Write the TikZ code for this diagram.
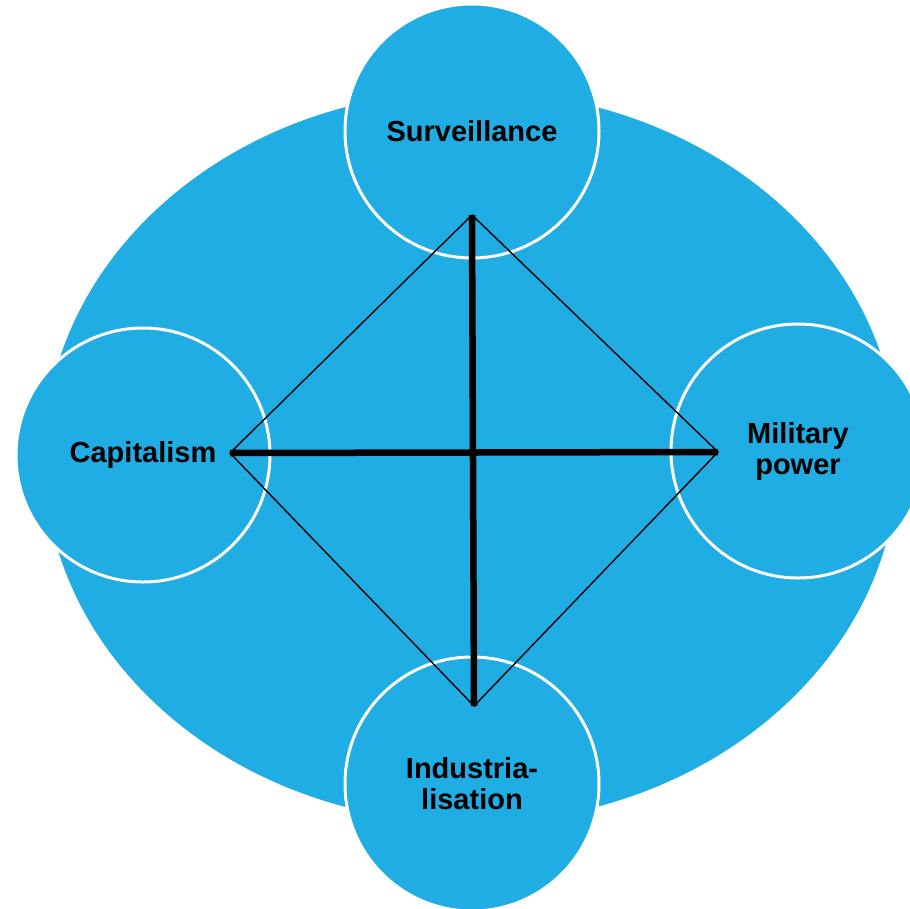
\documentclass[tikz,border=0pt]{standalone}
\usepackage{fontspec}
\setmainfont{Liberation Sans}
\definecolor{skyblue}{RGB}{31,173,227}
\begin{document}
\begin{tikzpicture}[x=1pt,y=-1pt,
  bigoval/.style={fill=skyblue,draw=none},
  powercircle/.style={circle,fill=skyblue,draw=white,line width=3pt,minimum size=254pt,inner sep=0pt,align=center,font=\fontsize{29}{31}\selectfont\bfseries},
  thinlink/.style={draw=black,line width=1.4pt},
  thicklink/.style={draw=black,line width=6.5pt}]
\useasboundingbox (0,0) rectangle (910,908);
\fill[bigoval] (471,457) ellipse [x radius=427pt, y radius=366pt];
\node[powercircle] (surv) at (472,131) {Surveillance};
\node[powercircle] (cap) at (143,455) {Capitalism};
\node[powercircle] (mil) at (798,451) {Military\\power};
\node[powercircle] (ind) at (472,784) {Industria-\\lisation};
\coordinate (top) at (472,215);
\coordinate (left) at (230,453);
\coordinate (right) at (718,452);
\coordinate (bottom) at (474,706);
\draw[thinlink] (top) -- (left) -- (bottom) -- (right) -- cycle;
\draw[thicklink] (top) -- (bottom);
\draw[thicklink] (left) -- (right);
\end{tikzpicture}
\end{document}
